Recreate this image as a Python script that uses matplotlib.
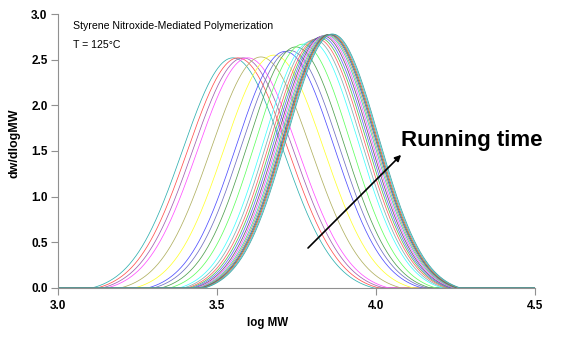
import numpy as np
import matplotlib
matplotlib.use("Agg")
import matplotlib.pyplot as plt

plt.rcParams['font.family'] = ['Liberation Sans', 'DejaVu Sans']

# Peak positions (log MW) and peak heights (dw/dlogMW) of each trace
peak_pos = [3.550, 3.566, 3.582, 3.597, 3.638, 3.679, 3.714, 3.730, 3.748, 3.770,
            3.795, 3.806, 3.815, 3.822, 3.828, 3.834, 3.839, 3.844, 3.848, 3.852,
            3.855, 3.858, 3.861, 3.864]
peak_h = [2.52, 2.52, 2.52, 2.52, 2.53, 2.55, 2.59, 2.60, 2.64, 2.67,
          2.70, 2.72, 2.73, 2.74, 2.75, 2.76, 2.765, 2.77, 2.772, 2.775,
          2.777, 2.778, 2.78, 2.78]
colors = ['#30b0b0', '#ff5050', '#a060b0', '#ff50ff', '#b0b060', '#ffff30',
          '#5050ff', '#7070c0', '#50a050', '#60ff60', '#40ffff', '#80b0b0',
          '#ff6060', '#50c050', '#6060ff', '#606060', '#ff50ff', '#40c0c0',
          '#b0b050', '#4040d0', '#30a030', '#ff3030', '#30d0d0', '#40a0a0']

x_ticks = [3.0, 3.5, 4.0, 4.5]
y_ticks = [0.0, 0.5, 1.0, 1.5, 2.0, 2.5, 3.0]

fig = plt.figure(figsize=(5.67, 3.42), dpi=100)
ax = fig.add_axes([0.1023, 0.158, 0.8413, 0.801])

x = np.linspace(3.0, 4.5, 1500)
for mu, h, c in zip(peak_pos, peak_h, colors):
    sig = 1.0 / (h * np.sqrt(2 * np.pi))
    g = np.exp(-0.5 * ((x - mu) / sig) ** 2)
    gc = np.exp(-0.5 * 2.8 ** 2)
    y = h * np.clip((g - gc) / (1 - gc), 0, None)
    ax.plot(x, y, color=c, lw=0.55)

ax.set_xlim(3.0, 4.5)
ax.set_ylim(0, 3.0)
ax.set_xticks(x_ticks)
ax.set_yticks(y_ticks)
ax.set_xticklabels([f"{t:.1f}" for t in x_ticks], fontweight='bold', fontsize=8.5)
ax.set_yticklabels([f"{t:.1f}" for t in y_ticks], fontweight='bold', fontsize=8.5)
for s in ['top', 'right']:
    ax.spines[s].set_visible(False)
for s in ['left', 'bottom']:
    ax.spines[s].set_color('#909090')
    ax.spines[s].set_linewidth(0.8)
ax.tick_params(direction='out', length=5, width=0.8, color='#909090')
ax.tick_params(axis='y', pad=2.5)
ax.tick_params(axis='x', pad=4)

ax.set_xlabel('log MW', fontweight='bold', fontsize=8.3)
ax.set_ylabel('dw/dlogMW', fontweight='bold', fontsize=9)
ax.xaxis.set_label_coords(0.44, -0.105)
ax.yaxis.set_label_coords(-0.078, 0.53)

ax.text(3.048, 2.873, 'Styrene Nitroxide-Mediated Polymerization', fontsize=7.6, va='center')
ax.text(3.048, 2.66, 'T = 125\u00b0C', fontsize=7.6, va='center')

ax.annotate('', xy=(4.085, 1.479), xytext=(3.78, 0.416),
            arrowprops=dict(arrowstyle='-|>', color='black', lw=1.2, mutation_scale=9))
ax.text(4.078, 1.555, 'Running time', fontsize=16, fontweight='bold', va='baseline')

fig.savefig('out.png', dpi=100)
